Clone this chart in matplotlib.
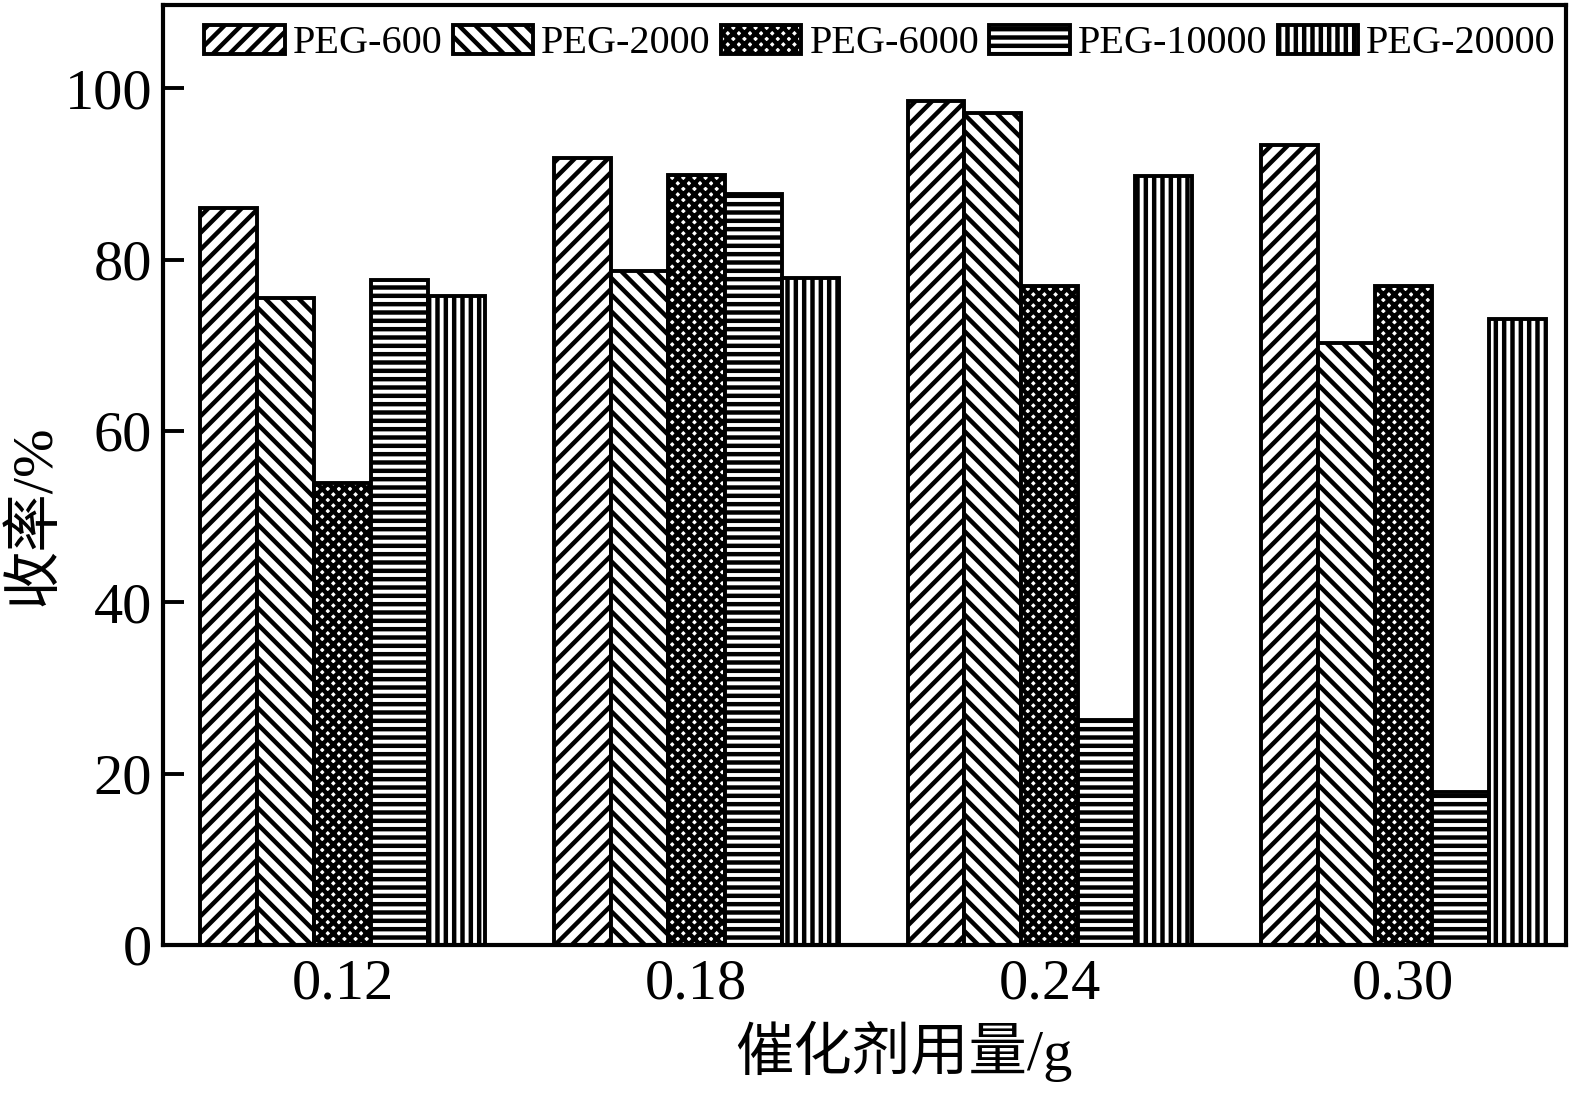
import numpy as np
import matplotlib.pyplot as plt

plt.rcParams['font.family'] = ['Liberation Serif', 'Noto Sans CJK SC']
plt.rcParams['hatch.linewidth'] = 3.2
plt.rcParams['hatch.color'] = 'black'

# data
doses = ['0.12', '0.18', '0.24', '0.30']
series = ['PEG-600', 'PEG-2000', 'PEG-6000', 'PEG-10000', 'PEG-20000']
peg600 = [86.0, 91.9, 98.5, 93.4]
peg2000 = [75.5, 78.7, 97.1, 70.2]
peg6000 = [53.9, 89.9, 76.9, 76.9]
peg10000 = [77.6, 87.7, 26.3, 17.8]
peg20000 = [75.7, 77.9, 89.8, 73.1]
values = [peg600, peg2000, peg6000, peg10000, peg20000]
hatches = ['//', '\\\\', 'xxx', '--', '||']

fig = plt.figure(figsize=(15.84, 10.95), dpi=100)
ax = fig.add_axes([0.103, 0.137, 0.8856, 0.8584])

x = np.arange(len(doses))
w = 0.161
for k in range(len(series)):
    ax.bar(x + (k - 2) * w, values[k], width=w, facecolor='white',
           edgecolor='black', linewidth=2.8, hatch=hatches[k], label=series[k])

ax.set_xlim(-0.508, 3.46)
ax.set_ylim(0, 109.7)
ax.set_xticks(x)
ax.set_xticklabels(doses)
ax.set_yticks([0, 20, 40, 60, 80, 100])
ax.tick_params(axis='y', direction='in', length=15, width=2.8, labelsize=42, pad=8)
ax.tick_params(axis='x', length=0, labelsize=42, pad=10)
for s in ax.spines.values():
    s.set_linewidth(3)

ax.set_xlabel('催化剂用量/g', fontsize=42)
ax.xaxis.set_label_coords(0.528, -0.113)
ax.xaxis.label.set_va('center')
ax.set_ylabel('收率/%', fontsize=42)
ax.yaxis.set_label_coords(-0.092, 0.457)
ax.yaxis.label.set_va('center')

leg = ax.legend(loc='upper center', bbox_to_anchor=(0.511, 1.005), ncol=5,
                frameon=False, fontsize=29, handlelength=2.0, handleheight=0.75,
                handletextpad=0.2, columnspacing=0.25, borderaxespad=0.2)

fig.savefig('out.png', dpi=100)
